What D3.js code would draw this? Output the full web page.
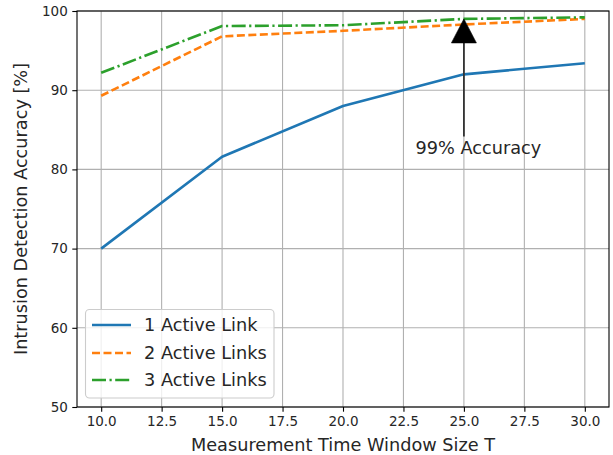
<!DOCTYPE html>
<html>
<head>
<meta charset="utf-8">
<script src="https://cdn.jsdelivr.net/npm/d3@7"></script>
<style>
  html, body { margin: 0; padding: 0; background: #fff; }
  svg text { font-family: "DejaVu Sans", sans-serif; fill: #262626; }
</style>
</head>
<body>
<svg id="chart" width="613" height="455"></svg>
<script>
// ---- data ----
const windowSizes = [10, 15, 20, 25, 30];
const oneLink   = [70.0, 81.6, 88.0, 92.0, 93.4];
const twoLinks  = [89.3, 96.8, 97.5, 98.3, 99.0];
const threeLinks = [92.2, 98.1, 98.2, 99.0, 99.2];
const seriesNames = ["1 Active Link", "2 Active Links", "3 Active Links"];
const xTicks = [10, 12.5, 15, 17.5, 20, 22.5, 25, 27.5, 30];
const yTicks = [50, 60, 70, 80, 90, 100];
const annotationPoint = [25, 99];
const annotationTextPos = [23, 82];
const annotationLabel = "99% Accuracy";
const xLabel = "Measurement Time Window Size T";
const yLabel = "Intrusion Detection Accuracy [%]";

// ---- layout ----
const svg = d3.select("#chart");
const mLeft = 77, mRight = 609, mTop = 11, mBottom = 407;
const x = d3.scaleLinear().domain([9, 31]).range([mLeft, mRight]);
const y = d3.scaleLinear().domain([50, 100]).range([mBottom, mTop]);

const colors = ["#1f77b4", "#ff7f0e", "#2ca02c"];
const dashes = [null, "8,3.5", "14,3.5,2.2,3.5"];
const lw = 2.6;

// grid
const gGrid = svg.append("g");
gGrid.selectAll("line.vx").data(xTicks).enter().append("line")
  .attr("x1", d => x(d)).attr("x2", d => x(d))
  .attr("y1", mTop).attr("y2", mBottom)
  .attr("stroke", "#b0b0b0").attr("stroke-width", 1.1);
gGrid.selectAll("line.hy").data(yTicks).enter().append("line")
  .attr("y1", d => y(d)).attr("y2", d => y(d))
  .attr("x1", mLeft).attr("x2", mRight)
  .attr("stroke", "#b0b0b0").attr("stroke-width", 1.1);

// lines
const allSeries = [oneLink, twoLinks, threeLinks];
const line = d3.line().x((d, i) => x(windowSizes[i])).y(d => y(d));
allSeries.forEach((s, k) => {
  svg.append("path").datum(s)
    .attr("d", line)
    .attr("fill", "none")
    .attr("stroke", colors[k])
    .attr("stroke-width", lw)
    .attr("stroke-linejoin", "round")
    .attr("stroke-dasharray", dashes[k]);
});

// axes
const xAxis = d3.axisBottom(x).tickValues(xTicks).tickFormat(d3.format(".1f")).tickSize(4.7).tickPadding(4.5);
const yAxis = d3.axisLeft(y).tickValues(yTicks).tickFormat(d3.format("d")).tickSize(4.7).tickPadding(4.5);
const gx = svg.append("g").attr("transform", `translate(0,${mBottom})`).call(xAxis);
const gy = svg.append("g").attr("transform", `translate(${mLeft},0)`).call(yAxis);
[gx, gy].forEach(g => {
  g.select(".domain").remove();
  g.selectAll(".tick line").attr("stroke", "#000").attr("stroke-width", 1.1);
  g.selectAll(".tick text").attr("font-size", 13.5).attr("fill", "#262626")
    .style("font-family", "DejaVu Sans, sans-serif");
});

// spines
svg.append("rect").attr("x", mLeft).attr("y", mTop)
  .attr("width", mRight - mLeft).attr("height", mBottom - mTop)
  .attr("fill", "none").attr("stroke", "#000").attr("stroke-width", 1.1);

// axis labels
svg.append("text").attr("x", (mLeft + mRight) / 2).attr("y", 451)
  .attr("text-anchor", "middle").attr("font-size", 17.7).text(xLabel);
svg.append("text")
  .attr("transform", `translate(27,${(mTop + mBottom) / 2}) rotate(-90)`)
  .attr("text-anchor", "middle").attr("font-size", 17.7).text(yLabel);

// annotation
const ax = x(annotationPoint[0]);
const tipY = y(annotationPoint[1]);
const tailY = y(annotationTextPos[1]) - 17;
const headLen = 24, headHalf = 12.5;
svg.append("line").attr("x1", ax).attr("x2", ax).attr("y1", tailY).attr("y2", tipY + headLen)
  .attr("stroke", "#333").attr("stroke-width", 1.8);
svg.append("path")
  .attr("d", `M${ax - headHalf},${tipY + headLen} L${ax},${tipY} L${ax + headHalf},${tipY + headLen} Z`)
  .attr("fill", "#000").attr("stroke", "#000").attr("stroke-width", 0.6);
svg.append("text").attr("x", x(annotationTextPos[0])).attr("y", y(annotationTextPos[1]))
  .attr("font-size", 17.7).text(annotationLabel);

// legend
const lg = svg.append("g");
lg.append("rect").attr("x", 85.5).attr("y", 309.5).attr("width", 188.5).attr("height", 88.5)
  .attr("rx", 4).attr("fill", "#fff").attr("fill-opacity", 0.8)
  .attr("stroke", "#cccccc").attr("stroke-width", 1.1);
const rowY = [325, 353, 380];
seriesNames.forEach((name, k) => {
  lg.append("line").attr("x1", 92).attr("x2", 131).attr("y1", rowY[k]).attr("y2", rowY[k])
    .attr("stroke", colors[k]).attr("stroke-width", lw).attr("stroke-dasharray", dashes[k]);
  lg.append("text").attr("x", 144).attr("y", rowY[k]).attr("dy", "0.36em")
    .attr("font-size", 17.7).text(name);
});
</script>
</body>
</html>
